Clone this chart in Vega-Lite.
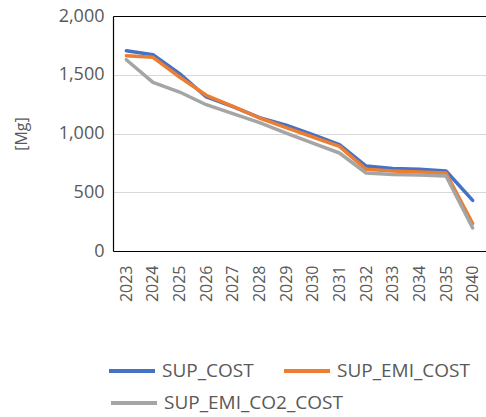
{
  "$schema": "https://vega.github.io/schema/vega-lite/v6.json",
  "width": 373,
  "height": 235,
  "autosize": "none",
  "padding": {"left": 113, "top": 16, "right": 0, "bottom": 166},
  "config": {
    "font": "Open Sans",
    "view": {"stroke": null}
  },
  "data": {
    "values": [
      {"year": "2023", "series": "SUP_COST", "value": 1705},
      {"year": "2024", "series": "SUP_COST", "value": 1671},
      {"year": "2025", "series": "SUP_COST", "value": 1509},
      {"year": "2026", "series": "SUP_COST", "value": 1311},
      {"year": "2027", "series": "SUP_COST", "value": 1228},
      {"year": "2028", "series": "SUP_COST", "value": 1135},
      {"year": "2029", "series": "SUP_COST", "value": 1070},
      {"year": "2030", "series": "SUP_COST", "value": 990},
      {"year": "2031", "series": "SUP_COST", "value": 905},
      {"year": "2032", "series": "SUP_COST", "value": 723},
      {"year": "2033", "series": "SUP_COST", "value": 702},
      {"year": "2034", "series": "SUP_COST", "value": 695},
      {"year": "2035", "series": "SUP_COST", "value": 681},
      {"year": "2040", "series": "SUP_COST", "value": 431},
      {"year": "2023", "series": "SUP_EMI_COST", "value": 1662},
      {"year": "2024", "series": "SUP_EMI_COST", "value": 1648},
      {"year": "2025", "series": "SUP_EMI_COST", "value": 1481},
      {"year": "2026", "series": "SUP_EMI_COST", "value": 1325},
      {"year": "2027", "series": "SUP_EMI_COST", "value": 1231},
      {"year": "2028", "series": "SUP_EMI_COST", "value": 1132},
      {"year": "2029", "series": "SUP_EMI_COST", "value": 1050},
      {"year": "2030", "series": "SUP_EMI_COST", "value": 970},
      {"year": "2031", "series": "SUP_EMI_COST", "value": 891},
      {"year": "2032", "series": "SUP_EMI_COST", "value": 695},
      {"year": "2033", "series": "SUP_EMI_COST", "value": 681},
      {"year": "2034", "series": "SUP_EMI_COST", "value": 672},
      {"year": "2035", "series": "SUP_EMI_COST", "value": 664},
      {"year": "2040", "series": "SUP_EMI_COST", "value": 233},
      {"year": "2023", "series": "SUP_EMI_CO2_COST", "value": 1628},
      {"year": "2024", "series": "SUP_EMI_CO2_COST", "value": 1435},
      {"year": "2025", "series": "SUP_EMI_CO2_COST", "value": 1353},
      {"year": "2026", "series": "SUP_EMI_CO2_COST", "value": 1245},
      {"year": "2027", "series": "SUP_EMI_CO2_COST", "value": 1169},
      {"year": "2028", "series": "SUP_EMI_CO2_COST", "value": 1092},
      {"year": "2029", "series": "SUP_EMI_CO2_COST", "value": 1004},
      {"year": "2030", "series": "SUP_EMI_CO2_COST", "value": 919},
      {"year": "2031", "series": "SUP_EMI_CO2_COST", "value": 834},
      {"year": "2032", "series": "SUP_EMI_CO2_COST", "value": 664},
      {"year": "2033", "series": "SUP_EMI_CO2_COST", "value": 652},
      {"year": "2034", "series": "SUP_EMI_CO2_COST", "value": 647},
      {"year": "2035", "series": "SUP_EMI_CO2_COST", "value": 638},
      {"year": "2040", "series": "SUP_EMI_CO2_COST", "value": 196}
    ]
  },
  "encoding": {
    "x": {
      "field": "year",
      "type": "ordinal",
      "scale": {"type": "point", "padding": 0.5},
      "axis": {
        "title": null,
        "labelAngle": -90,
        "labelFontSize": 16,
        "labelColor": "#595959",
        "labelPadding": 14,
        "ticks": false,
        "domain": true,
        "domainColor": "#000000",
        "domainWidth": 1.2,
        "grid": false
      }
    },
    "y": {
      "field": "value",
      "type": "quantitative",
      "scale": {"domain": [0, 2000]},
      "axis": {
        "title": "[Mg]",
        "titleFontSize": 16,
        "titleFontWeight": "normal",
        "titleColor": "#595959",
        "titlePadding": 29,
        "values": [0, 500, 1000, 1500, 2000],
        "format": ",.0f",
        "labelFontSize": 18,
        "labelColor": "#595959",
        "labelPadding": 9,
        "ticks": false,
        "domain": true,
        "domainColor": "#000000",
        "domainWidth": 1.2,
        "gridColor": {"condition": {"test": "datum.value === 2000", "value": "#000000"}, "value": "#D9D9D9"},
        "gridWidth": 1.2
      }
    }
  },
  "layer": [
    {
      "transform": [{"filter": "datum.series !== 'SUP_EMI_CO2_COST'"}],
      "mark": {"type": "line", "strokeWidth": 3.5, "strokeCap": "round", "strokeJoin": "round"},
      "encoding": {
        "color": {
          "field": "series",
          "type": "nominal",
          "scale": {
            "domain": ["SUP_COST", "SUP_EMI_COST"],
            "range": ["#4472C4", "#ED7D31"]
          },
          "legend": {
            "title": null,
            "orient": "none",
            "legendX": -6,
            "legendY": 330,
            "direction": "horizontal",
            "columnPadding": 22,
            "symbolType": "stroke",
            "symbolSize": 2116,
            "symbolStrokeWidth": 4,
            "labelFontSize": 19,
            "labelColor": "#595959",
            "labelOffset": 5,
            "labelLimit": 300
          }
        }
      }
    },
    {
      "transform": [{"filter": "datum.series === 'SUP_EMI_CO2_COST'"}],
      "mark": {"type": "line", "strokeWidth": 3.5, "strokeCap": "round", "strokeJoin": "round"},
      "encoding": {
        "stroke": {
          "field": "series",
          "type": "nominal",
          "scale": {
            "domain": ["SUP_EMI_CO2_COST"],
            "range": ["#A5A5A5"]
          },
          "legend": {
            "title": null,
            "orient": "none",
            "legendX": -4,
            "legendY": 362,
            "direction": "horizontal",
            "symbolType": "stroke",
            "symbolSize": 2116,
            "symbolStrokeWidth": 4,
            "labelFontSize": 19,
            "labelColor": "#595959",
            "labelOffset": 5,
            "labelLimit": 300
          }
        }
      }
    }
  ]
}
